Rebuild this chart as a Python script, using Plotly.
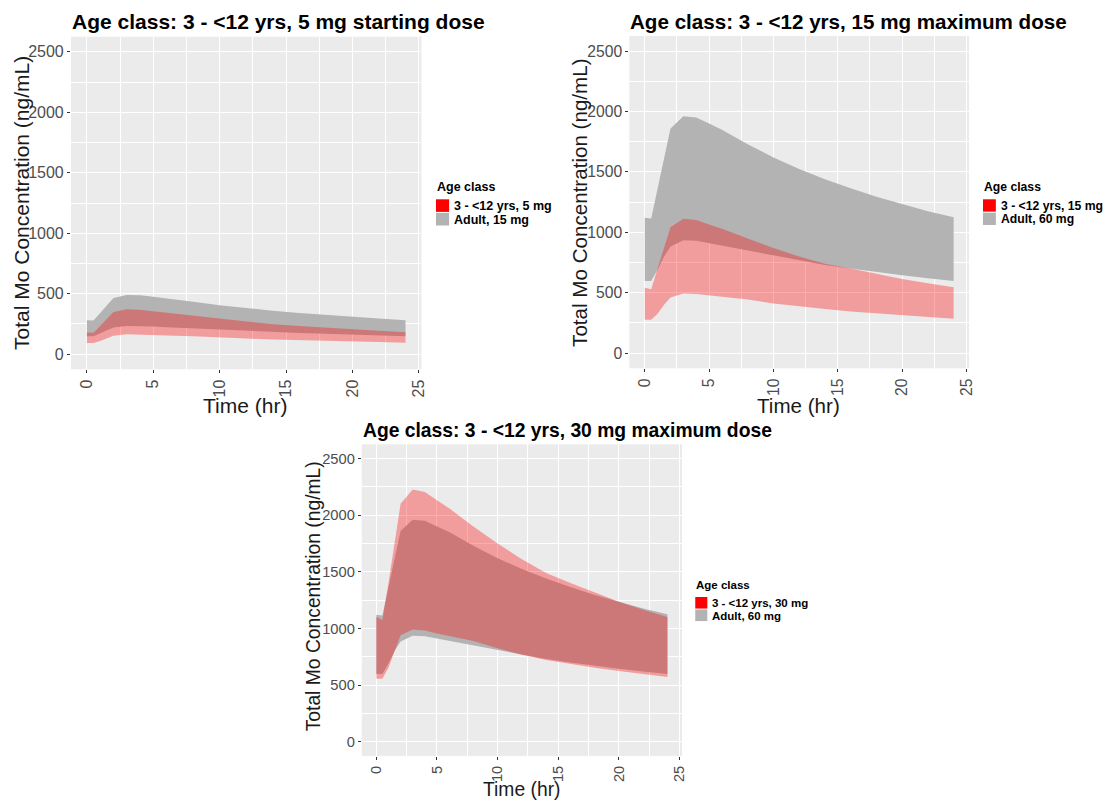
import plotly.graph_objects as go

# ---------------- data ----------------
times = [0, 0.5, 1, 1.5, 2, 3, 4, 5, 6, 8, 10, 12, 14, 16, 18, 20, 22, 24]

# Panel 1: child 3-<12 yrs 5 mg vs adult 15 mg
child5_lo = [92, 92, 109, 133, 153, 165, 163, 159, 155, 148, 137, 129, 122, 115, 110, 105, 100, 95]
child5_hi = [180, 177, 233, 293, 348, 371, 367, 355, 343, 317, 290, 267, 247, 233, 218, 205, 193, 182]
adult15_lo = [149, 149, 173, 200, 221, 234, 233, 228, 223, 213, 201, 191, 183, 175, 168, 161, 155, 149]
adult15_hi = [280, 279, 341, 403, 465, 490, 488, 475, 463, 433, 405, 381, 360, 341, 324, 309, 294, 281]

# Panel 2: child 15 mg vs adult 60 mg
child15_lo = [276, 276, 327, 400, 460, 494, 490, 478, 466, 444, 412, 386, 365, 346, 330, 316, 300, 286]
child15_hi = [541, 530, 701, 872, 1043, 1113, 1102, 1066, 1030, 950, 870, 800, 740, 700, 655, 615, 578, 545]
adult60_lo = [597, 597, 690, 800, 884, 935, 930, 910, 890, 850, 805, 765, 730, 700, 670, 645, 620, 597]
adult60_hi = [1120, 1115, 1363, 1612, 1860, 1960, 1950, 1900, 1850, 1730, 1620, 1525, 1440, 1365, 1295, 1235, 1175, 1125]

# Panel 3: child 30 mg vs adult 60 mg
child30_lo = [555, 555, 654, 800, 940, 990, 982, 956, 932, 888, 826, 768, 722, 684, 652, 624, 596, 572]
child30_hi = [1100, 1075, 1400, 1750, 2100, 2226, 2204, 2132, 2060, 1900, 1750, 1610, 1490, 1400, 1315, 1235, 1165, 1100]

panel_titles = ["Age class: 3 - <12 yrs, 5 mg starting dose",
                "Age class: 3 - <12 yrs, 15 mg maximum dose",
                "Age class: 3 - <12 yrs, 30 mg maximum dose"]
child_labels = ["3 - <12 yrs, 5 mg", "3 - <12 yrs, 15 mg", "3 - <12 yrs, 30 mg"]
adult_labels = ["Adult, 15 mg", "Adult, 60 mg", "Adult, 60 mg"]
legend_title = "Age class"
x_title = "Time (hr)"
y_title = "Total Mo Concentration (ng/mL)"

x_ticks = [0, 5, 10, 15, 20, 25]
x_minor = [2.5, 7.5, 12.5, 17.5, 22.5]
y_ticks = [0, 500, 1000, 1500, 2000, 2500]
y_minor = [250, 750, 1250, 1750, 2250]

panels = [
    (child5_lo, child5_hi, adult15_lo, adult15_hi),
    (child15_lo, child15_hi, adult60_lo, adult60_hi),
    (child30_lo, child30_hi, adult60_lo, adult60_hi),
]

# ---------------- layout geometry (page pixels) ----------------
PAGE_W, PAGE_H = 1115, 801
OFF = 8                                  # default body margin of the html page
W, H = PAGE_W - OFF, PAGE_H - OFF        # figure size so that it fits the window
boxes = [(71.3, 423.7, 36.7, 369.3), (632.7, 974.3, 36.0, 368.3), (363.7, 685.7, 444.3, 755.9)]
scale = [1.0, 0.98, 0.92]                # relative text size of each panel image
title_pos = [(71.3, 21.7), (632.7, 21.7), (363.7, 430)]
ytitle_pos = [(21, 203), (582, 203), (315, 596)]
xtitle_pos = [(246.7, 405.5), (803.3, 405.5), (524.5, 789.5)]
# legend: (left of key, title y, first key top)
legend_geo = [(438.3, 186.7, 199.3), (988.3, 186.7, 199.3), (699.0, 585.0, 597.0)]

RED_FILL = "rgba(255,0,0,0.33)"
GRAY_FILL = "#B3B3B3"
FONT = "Liberation Sans, Arial, sans-serif"


def px(x):
    return (x - OFF) / W


def py(y):
    return 1 - (y - OFF) / H


fig = go.Figure()
layout = dict(
    width=W, height=H, margin=dict(l=0, r=0, t=0, b=0),
    paper_bgcolor="white", plot_bgcolor="#EBEBEB",
    font=dict(family=FONT), showlegend=False, annotations=[], shapes=[],
)

for i, (clo, chi, alo, ahi) in enumerate(panels):
    s = scale[i]
    sfx = "" if i == 0 else str(i + 1)
    xa, ya = "x" + sfx, "y" + sfx
    # adult band (gray) first
    fig.add_trace(go.Scatter(x=times, y=alo, mode="lines", line=dict(width=0),
                             xaxis=xa, yaxis=ya, hoverinfo="skip", name=adult_labels[i]))
    fig.add_trace(go.Scatter(x=times, y=ahi, mode="lines", line=dict(width=0),
                             fill="tonexty", fillcolor=GRAY_FILL,
                             xaxis=xa, yaxis=ya, name=adult_labels[i]))
    # child band (red, transparent) on top
    fig.add_trace(go.Scatter(x=times, y=clo, mode="lines", line=dict(width=0),
                             xaxis=xa, yaxis=ya, hoverinfo="skip", name=child_labels[i]))
    fig.add_trace(go.Scatter(x=times, y=chi, mode="lines", line=dict(width=0),
                             fill="tonexty", fillcolor=RED_FILL,
                             xaxis=xa, yaxis=ya, name=child_labels[i]))

    l, r, t, b = boxes[i]
    tick_font = dict(size=round(16 * s, 1), color="#4D4D4D", family=FONT)
    layout["xaxis" + sfx] = dict(
        domain=[px(l), px(r)], anchor=ya, range=[-1.2, 25.2],
        tickmode="array", tickvals=x_ticks, ticktext=[str(v) for v in x_ticks],
        tickangle=-90, ticks="outside", ticklen=3, tickcolor="#333333",
        tickfont=tick_font,
        showgrid=True, gridcolor="white", gridwidth=1.1,
        minor=dict(tickvals=x_minor, showgrid=True, gridcolor="white", gridwidth=0.55, ticks=""),
        zeroline=False, showline=False,
    )
    layout["yaxis" + sfx] = dict(
        domain=[py(b), py(t)], anchor=xa, range=[-125, 2625],
        tickmode="array", tickvals=y_ticks, ticktext=[str(v) for v in y_ticks],
        ticks="outside", ticklen=3, tickcolor="#333333",
        tickfont=tick_font,
        showgrid=True, gridcolor="white", gridwidth=1.1,
        minor=dict(tickvals=y_minor, showgrid=True, gridcolor="white", gridwidth=0.55, ticks=""),
        zeroline=False, showline=False,
    )

    # panel title
    tx, ty = title_pos[i]
    layout["annotations"].append(dict(
        text="<b>" + panel_titles[i] + "</b>", x=px(tx), y=py(ty), xref="paper", yref="paper",
        xanchor="left", yanchor="middle", showarrow=False, borderpad=0,
        font=dict(size=round(21 * s, 1), color="black", family=FONT)))
    # y-axis title
    yx, yy = ytitle_pos[i]
    layout["annotations"].append(dict(
        text=y_title, x=px(yx), y=py(yy), xref="paper", yref="paper",
        xanchor="center", yanchor="middle", showarrow=False, textangle=-90, borderpad=0,
        font=dict(size=round(21 * s, 1), color="#1a1a1a", family=FONT)))
    # x-axis title
    xx, xy = xtitle_pos[i]
    layout["annotations"].append(dict(
        text=x_title, x=px(xx), y=py(xy), xref="paper", yref="paper",
        xanchor="center", yanchor="middle", showarrow=False, borderpad=0,
        font=dict(size=round(21 * s, 1), color="#1a1a1a", family=FONT)))

    # legend (title, keys, labels)
    kx, tty, k0 = legend_geo[i]
    ksz = 13.2 * s
    fsz = round(12.5 * s, 1)
    layout["annotations"].append(dict(
        text="<b>" + legend_title + "</b>", x=px(kx), y=py(tty), xref="paper", yref="paper",
        xanchor="left", yanchor="middle", showarrow=False, borderpad=0,
        font=dict(size=fsz, color="black", family=FONT)))
    for j, (lab, col) in enumerate([(child_labels[i], "#FF0000"), (adult_labels[i], "#B3B3B3")]):
        ytop = k0 + j * (ksz + 0.4)
        layout["shapes"].append(dict(
            type="rect", xref="paper", yref="paper",
            x0=px(kx), x1=px(kx + ksz), y0=py(ytop + ksz - 0.6), y1=py(ytop),
            fillcolor=col, line=dict(width=0), layer="above"))
        layout["annotations"].append(dict(
            text="<b>" + lab + "</b>", x=px(kx + ksz + 4 * s), y=py(ytop + ksz / 2),
            xref="paper", yref="paper", xanchor="left", yanchor="middle",
            showarrow=False, borderpad=0,
            font=dict(size=fsz, color="black", family=FONT)))

fig.update_layout(**layout)
fig.write_html("out.html")
